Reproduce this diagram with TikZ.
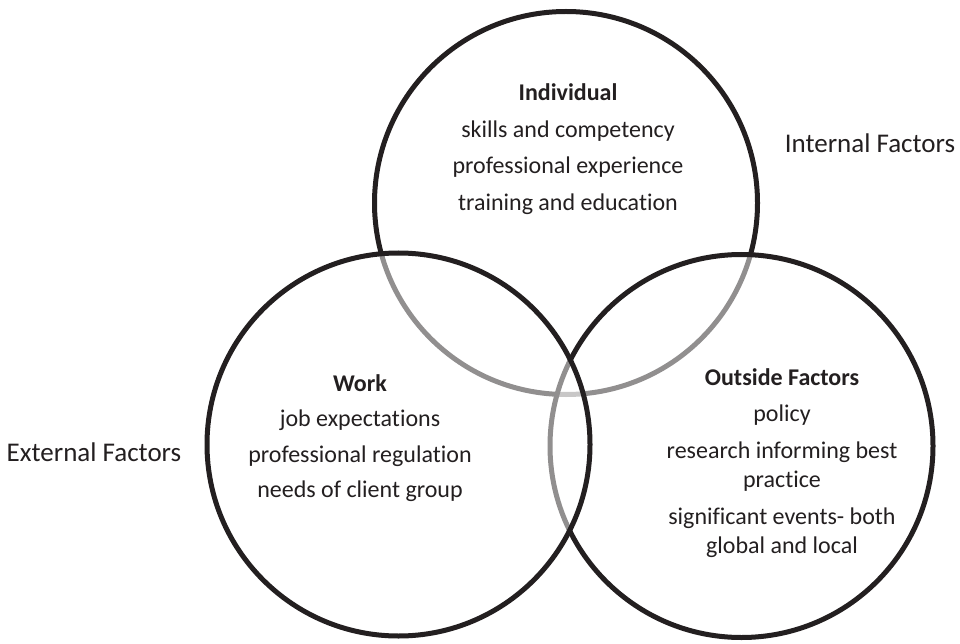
\documentclass[tikz,border=0pt]{standalone}
\usepackage{fontspec}
\setmainfont{Carlito}[Ligatures=NoCommon]
\usetikzlibrary{positioning}
\definecolor{ink}{HTML}{231F20}
\tikzset{
  ring/.style={circle, draw=ink, line width=5pt, minimum size=383pt, inner sep=0pt},
  veil/.style={fill=white, fill opacity=0.5},
  txt/.style={text=ink, align=center, inner sep=0pt, font=\fontsize{24}{29.5}\selectfont},
  side/.style={text=ink, inner sep=0pt, font=\fontsize{27}{32}\selectfont}
}
\begin{document}
\begin{tikzpicture}[x=1pt,y=-1pt]
      \useasboundingbox (0,0) rectangle (960,644);
      \node[ring] (indiv) at (566,203) {};
      \node[ring,veil] (outside) at (741.5,446) {};
      \node[ring,veil] (work) at (398.5,444.5) {};
      \node[txt] (indivtxt) at (568,149) {\textbf{Individual}\\[7pt] skills and competency\\[7pt]
        professional experience\\[7pt] training and education};
      \node[txt] (worktxt) at (360,438) {\textbf{Work}\\[6pt] job expectations\\[6pt]
        professional regulation\\[6pt] needs of client group};
      \node[txt] (outtxt) at (782,463) {\textbf{Outside Factors}\\[7pt] policy\\[7pt]
        research informing best\\ practice\\[7pt] significant events- both\\ global and local};
      \node[side] (internal) at (870,143) {Internal Factors};
      \node[side] (external) at (94,452) {External Factors};
    \end{tikzpicture}
\end{document}
